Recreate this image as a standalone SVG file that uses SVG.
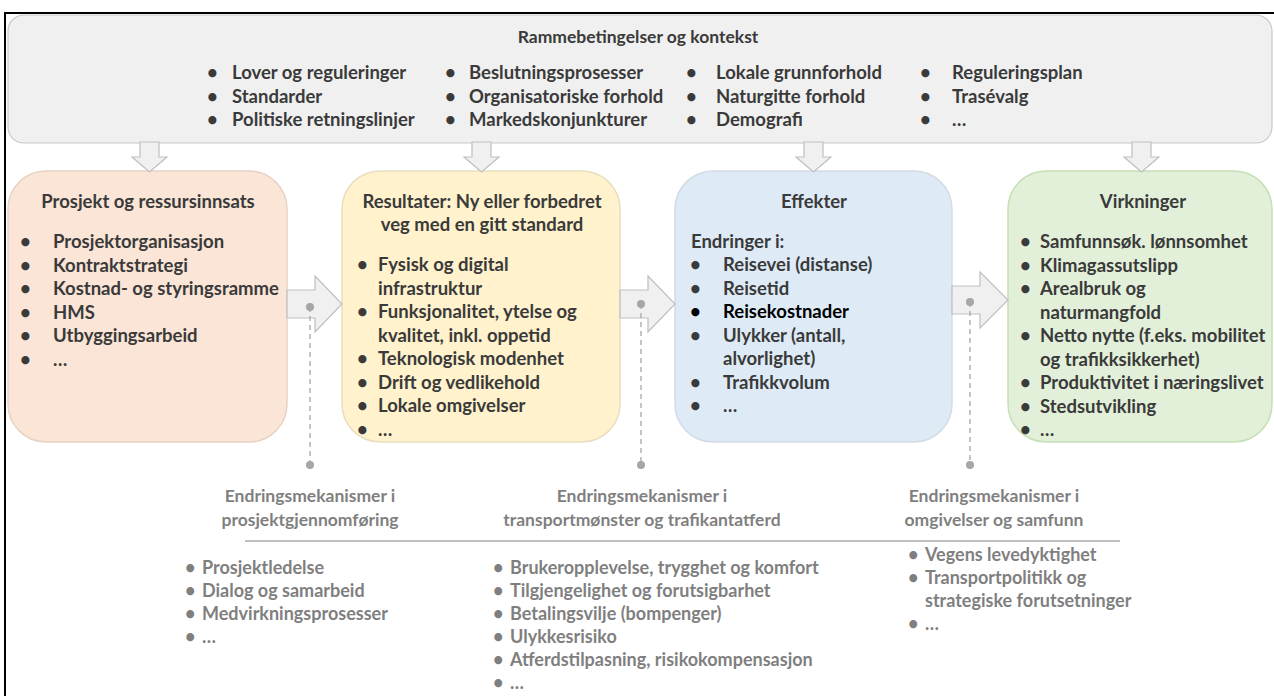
<svg xmlns="http://www.w3.org/2000/svg" width="1274" height="696" viewBox="0 0 1274 696">
  <style>
    text { font-family: Lato, "Liberation Sans", sans-serif; font-weight: bold; font-size: 18.5px; fill: #3a3a3a; }
    .c { text-anchor: middle; }
    .t { font-size: 17.5px; }
    .mech text { fill: #7f7f7f; font-size: 18px; }
    .mech .h { font-size: 17.5px; }
    .box { stroke-width: 1.5; }
    .blk { fill: #f0f0f0; stroke: #bfbfbf; stroke-width: 1.2; }
    .dash { stroke: #a6a6a6; stroke-width: 1.3; stroke-dasharray: 5 4; fill: none; }
    .dot { fill: #a6a6a6; }
  </style>

  <rect x="0" y="0" width="1274" height="696" fill="#ffffff"/>
  <!-- outer frame -->
  <rect x="5" y="13" width="1276" height="692" fill="none" stroke="#000000" stroke-width="2"/>

  <!-- framework conditions -->
  <g id="rammebetingelser">
    <rect x="8" y="15" width="1264" height="128" rx="16" fill="#f0f0f0" stroke="#c8c8c8" stroke-width="1.2"/>
    <text x="638" y="43" class="c t">Rammebetingelser og kontekst</text>
    <g>
      <text x="207" y="79">•</text><text x="232" y="79">Lover og reguleringer</text>
      <text x="207" y="102.5">•</text><text x="232" y="102.5">Standarder</text>
      <text x="207" y="126">•</text><text x="232" y="126">Politiske retningslinjer</text>
      <text x="445" y="79">•</text><text x="469" y="79">Beslutningsprosesser</text>
      <text x="445" y="102.5">•</text><text x="469" y="102.5">Organisatoriske forhold</text>
      <text x="445" y="126">•</text><text x="469" y="126">Markedskonjunkturer</text>
      <text x="686" y="79">•</text><text x="716" y="79">Lokale grunnforhold</text>
      <text x="686" y="102.5">•</text><text x="716" y="102.5">Naturgitte forhold</text>
      <text x="686" y="126">•</text><text x="716" y="126">Demografi</text>
      <text x="920" y="79">•</text><text x="952" y="79">Reguleringsplan</text>
      <text x="920" y="102.5">•</text><text x="952" y="102.5">Trasévalg</text>
      <text x="920" y="126">•</text><text x="952" y="126">…</text>
    </g>
  </g>

  <!-- project and resources -->
  <g id="prosjekt">
    <rect class="box" x="8" y="171" width="279" height="271" rx="38" fill="#fbe5d6" stroke="#e6d3c6"/>
    <text x="148" y="208" class="c">Prosjekt og ressursinnsats</text>
    <text x="20" y="248">•</text><text x="53" y="248">Prosjektorganisasjon</text>
    <text x="20" y="271.5">•</text><text x="53" y="271.5">Kontraktstrategi</text>
    <text x="20" y="295">•</text><text x="53" y="295">Kostnad- og styringsramme</text>
    <text x="20" y="318.5">•</text><text x="53" y="318.5">HMS</text>
    <text x="20" y="342">•</text><text x="53" y="342">Utbyggingsarbeid</text>
    <text x="20" y="365.5">•</text><text x="53" y="365.5">…</text>
  </g>

  <!-- results -->
  <g id="resultater">
    <rect class="box" x="342" y="171" width="278" height="271" rx="38" fill="#fff2cc" stroke="#e8dfc0"/>
    <text x="482" y="208" class="c">Resultater: Ny eller forbedret</text>
    <text x="482" y="231" class="c">veg med en gitt standard</text>
    <text x="357" y="271">•</text><text x="378" y="271">Fysisk og digital</text>
    <text x="378" y="294.5">infrastruktur</text>
    <text x="357" y="318">•</text><text x="378" y="318">Funksjonalitet, ytelse og</text>
    <text x="378" y="341.5">kvalitet, inkl. oppetid</text>
    <text x="357" y="365">•</text><text x="378" y="365">Teknologisk modenhet</text>
    <text x="357" y="388.5">•</text><text x="378" y="388.5">Drift og vedlikehold</text>
    <text x="357" y="412">•</text><text x="378" y="412">Lokale omgivelser</text>
    <text x="357" y="435.5">•</text><text x="378" y="435.5">…</text>
  </g>

  <!-- effects -->
  <g id="effekter">
    <rect class="box" x="675" y="171" width="277" height="271" rx="38" fill="#deebf7" stroke="#d3dbe4"/>
    <text x="814" y="208" class="c">Effekter</text>
    <text x="691" y="248">Endringer i:</text>
    <text x="690" y="271">•</text><text x="723" y="271">Reisevei (distanse)</text>
    <text x="690" y="294.5">•</text><text x="723" y="294.5">Reisetid</text>
    <text x="690" y="318" style="fill:#000">•</text><text x="723" y="318" style="fill:#000">Reisekostnader</text>
    <text x="690" y="341.5">•</text><text x="723" y="341.5">Ulykker (antall,</text>
    <text x="723" y="365">alvorlighet)</text>
    <text x="690" y="388.5">•</text><text x="723" y="388.5">Trafikkvolum</text>
    <text x="690" y="412">•</text><text x="723" y="412">…</text>
  </g>

  <!-- impacts -->
  <g id="virkninger">
    <rect class="box" x="1008" y="171" width="264" height="271" rx="38" fill="#e2f0d9" stroke="#c5e0b4"/>
    <text x="1143" y="208" class="c">Virkninger</text>
    <text x="1020" y="248">•</text><text x="1040" y="248">Samfunnsøk. lønnsomhet</text>
    <text x="1020" y="271.5">•</text><text x="1040" y="271.5">Klimagassutslipp</text>
    <text x="1020" y="295">•</text><text x="1040" y="295">Arealbruk og</text>
    <text x="1040" y="318.5">naturmangfold</text>
    <text x="1020" y="342">•</text><text x="1040" y="342">Netto nytte (f.eks. mobilitet</text>
    <text x="1040" y="365.5">og trafikksikkerhet)</text>
    <text x="1020" y="389">•</text><text x="1040" y="389">Produktivitet i næringslivet</text>
    <text x="1020" y="412.5">•</text><text x="1040" y="412.5">Stedsutvikling</text>
    <text x="1020" y="436">•</text><text x="1040" y="436">…</text>
  </g>

  <!-- block arrows and mechanism links -->
  <g id="connectors">
    <polygon class="blk" points="140,142 159,142 159,157 167,157 149.5,172 132,157 140,157"/>
    <polygon class="blk" points="472,142 491,142 491,157 499,157 481.5,172 464,157 472,157"/>
    <polygon class="blk" points="804,142 823,142 823,157 831,157 813.5,172 796,157 804,157"/>
    <polygon class="blk" points="1132,142 1151,142 1151,157 1159,157 1141.5,172 1124,157 1132,157"/>

    <polygon class="blk" points="287,290 315,290 315,276 342,304 315,332 315,318 287,318"/>
    <polygon class="blk" points="620,290 648,290 648,276 675,304 648,332 648,318 620,318"/>
    <polygon class="blk" points="952,286 980,286 980,272 1008,300 980,328 980,314 952,314"/>

    <line class="dash" x1="310" y1="307" x2="310" y2="465"/>
    <circle class="dot" cx="310" cy="307" r="4"/>
    <circle class="dot" cx="310" cy="465" r="4"/>
    <line class="dash" x1="641" y1="304" x2="641" y2="465"/>
    <circle class="dot" cx="641" cy="304" r="4"/>
    <circle class="dot" cx="641" cy="465" r="4"/>
    <line class="dash" x1="970" y1="302" x2="970" y2="465"/>
    <circle class="dot" cx="970" cy="302" r="4"/>
    <circle class="dot" cx="970" cy="465" r="4"/>
  </g>

  <!-- change mechanisms -->
  <g class="mech">
    <line x1="245" y1="541" x2="1120" y2="541" stroke="#bfbfbf" stroke-width="2"/>
    <g id="mek-prosjekt">
      <text x="310" y="502" class="c h">Endringsmekanismer i</text>
      <text x="310" y="526" class="c h">prosjektgjennomføring</text>
      <text x="185" y="574">•</text><text x="202" y="574">Prosjektledelse</text>
      <text x="185" y="597">•</text><text x="202" y="597">Dialog og samarbeid</text>
      <text x="185" y="620">•</text><text x="202" y="620">Medvirkningsprosesser</text>
      <text x="185" y="643">•</text><text x="202" y="643">…</text>
    </g>
    <g id="mek-transport">
      <text x="642" y="502" class="c h">Endringsmekanismer i</text>
      <text x="642" y="526" class="c h">transportmønster og trafikantatferd</text>
      <text x="493" y="574">•</text><text x="510" y="574">Brukeropplevelse, trygghet og komfort</text>
      <text x="493" y="597">•</text><text x="510" y="597">Tilgjengelighet og forutsigbarhet</text>
      <text x="493" y="620">•</text><text x="510" y="620">Betalingsvilje (bompenger)</text>
      <text x="493" y="643">•</text><text x="510" y="643">Ulykkesrisiko</text>
      <text x="493" y="666">•</text><text x="510" y="666">Atferdstilpasning, risikokompensasjon</text>
      <text x="493" y="689">•</text><text x="510" y="689">…</text>
    </g>
    <g id="mek-samfunn">
      <text x="994" y="502" class="c h">Endringsmekanismer i</text>
      <text x="994" y="526" class="c h">omgivelser og samfunn</text>
      <text x="908" y="561">•</text><text x="925" y="561">Vegens levedyktighet</text>
      <text x="908" y="584">•</text><text x="925" y="584">Transportpolitikk og</text>
      <text x="925" y="607">strategiske forutsetninger</text>
      <text x="908" y="630">•</text><text x="925" y="630">…</text>
    </g>
  </g>
</svg>
